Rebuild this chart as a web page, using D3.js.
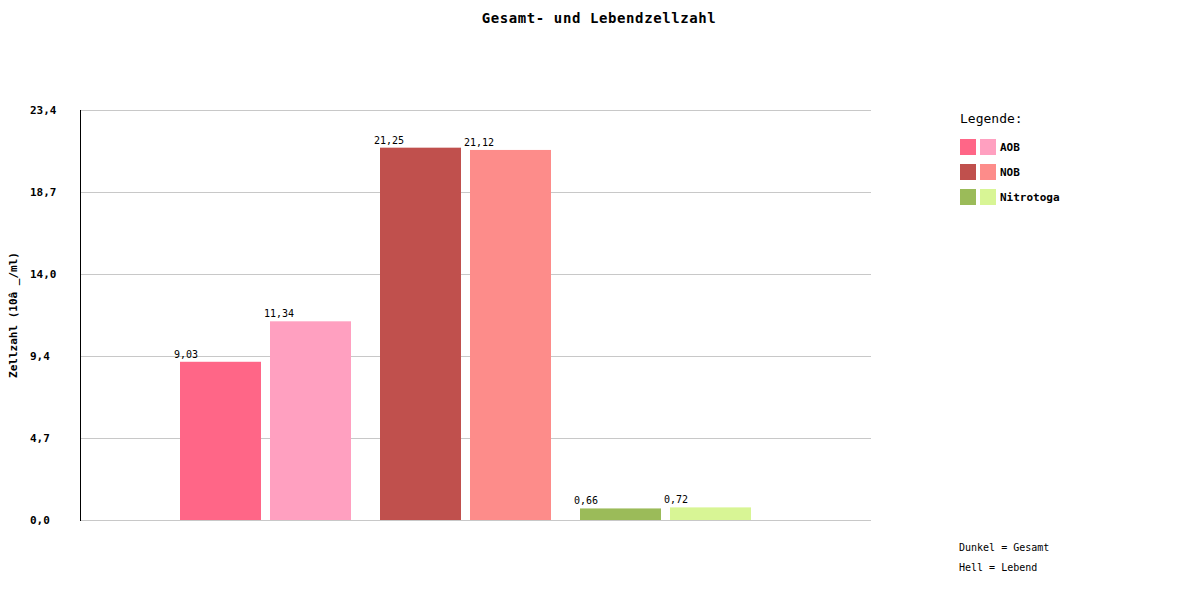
<!DOCTYPE html>
<html>
<head>
<meta charset="utf-8">
<script src="https://cdn.jsdelivr.net/npm/d3@7"></script>
<style>
  body { margin: 0; background: #fff; }
  text { font-family: "DejaVu Sans Mono", "Liberation Mono", monospace; }
</style>
</head>
<body>
<div id="chart"></div>
<script>
// chart data
const groups = ["AOB", "NOB", "Nitrotoga"];
const gesamt = [9.03, 21.25, 0.66];   // dark bars
const lebend = [11.34, 21.12, 0.72];  // light bars
const darkColors = ["#ff6687", "#c0504d", "#9bbb59"];
const lightColors = ["#ffa0c0", "#fd8c8a", "#d8f595"];
const yTicks = [0, 4.68, 9.36, 14.04, 18.72, 23.4];
const yMax = 23.4;

const fmt = (v, d) => v.toFixed(d).replace(".", ",");

const svg = d3.select("#chart").append("svg")
    .attr("width", 1200)
    .attr("height", 600);

const plotLeft = 80, plotRight = 871, plotTop = 110, plotBottom = 520;

const y = d3.scaleLinear().domain([0, yMax]).range([plotBottom, plotTop]);
const x = d3.scaleBand().domain(groups).range([80, 680]);
const inner = d3.scaleBand()
    .domain(["gesamt", "lebend"])
    .range([x.bandwidth() / 2, x.bandwidth() / 2 + 171])
    .paddingInner(0.1);

// title
svg.append("text")
    .attr("x", 599).attr("y", 23)
    .attr("text-anchor", "middle")
    .attr("font-size", "14px")
    .attr("font-weight", "bold")
    .attr("letter-spacing", "0.6px")
    .text("Gesamt- und Lebendzellzahl");

// grid lines
svg.append("g").selectAll("line")
    .data(yTicks)
    .enter().append("line")
    .attr("x1", plotLeft).attr("x2", plotRight)
    .attr("y1", d => Math.round(y(d)) + 0.5)
    .attr("y2", d => Math.round(y(d)) + 0.5)
    .attr("stroke", "#c8c8c8");

// y axis line
svg.append("line")
    .attr("x1", plotLeft + 0.5).attr("x2", plotLeft + 0.5)
    .attr("y1", plotTop).attr("y2", plotBottom + 1)
    .attr("stroke", "#000");

// tick labels
svg.append("g").selectAll("text")
    .data(yTicks)
    .enter().append("text")
    .attr("x", 30)
    .attr("y", d => y(d) + 4)
    .attr("font-size", "11px")
    .attr("font-weight", "bold")
    .text(d => fmt(d, 1));

// y axis title
svg.append("text")
    .attr("transform", "translate(17,315) rotate(-90)")
    .attr("text-anchor", "middle")
    .attr("font-size", "11px")
    .attr("font-weight", "bold")
    .text("Zellzahl (10â _/ml)");

// bars
const bars = [];
groups.forEach((g, i) => {
    bars.push({ g: g, k: "gesamt", v: gesamt[i], c: darkColors[i] });
    bars.push({ g: g, k: "lebend", v: lebend[i], c: lightColors[i] });
});

svg.append("g").selectAll("rect")
    .data(bars)
    .enter().append("rect")
    .attr("x", d => x(d.g) + inner(d.k))
    .attr("width", inner.bandwidth())
    .attr("y", d => y(d.v))
    .attr("height", d => y(0) - y(d.v))
    .attr("fill", d => d.c);

svg.append("g").selectAll("text")
    .data(bars)
    .enter().append("text")
    .attr("x", d => x(d.g) + inner(d.k) - 6)
    .attr("y", d => y(d.v) - 4)
    .attr("font-size", "10px")
    .text(d => fmt(d.v, 2));

// legend
svg.append("text")
    .attr("x", 960).attr("y", 123)
    .attr("font-size", "13px")
    .text("Legende:");

const legend = svg.append("g").selectAll("g")
    .data(groups)
    .enter().append("g")
    .attr("transform", (d, i) => `translate(960,${139 + i * 25})`);

legend.append("rect")
    .attr("width", 16).attr("height", 16)
    .attr("fill", (d, i) => darkColors[i]);
legend.append("rect")
    .attr("x", 20)
    .attr("width", 16).attr("height", 16)
    .attr("fill", (d, i) => lightColors[i]);
legend.append("text")
    .attr("x", 40).attr("y", 12)
    .attr("font-size", "11px")
    .attr("font-weight", "bold")
    .text(d => d);

// notes
svg.append("text")
    .attr("x", 959).attr("y", 551)
    .attr("font-size", "10px")
    .text("Dunkel = Gesamt");
svg.append("text")
    .attr("x", 959).attr("y", 571)
    .attr("font-size", "10px")
    .text("Hell = Lebend");
</script>
</body>
</html>
